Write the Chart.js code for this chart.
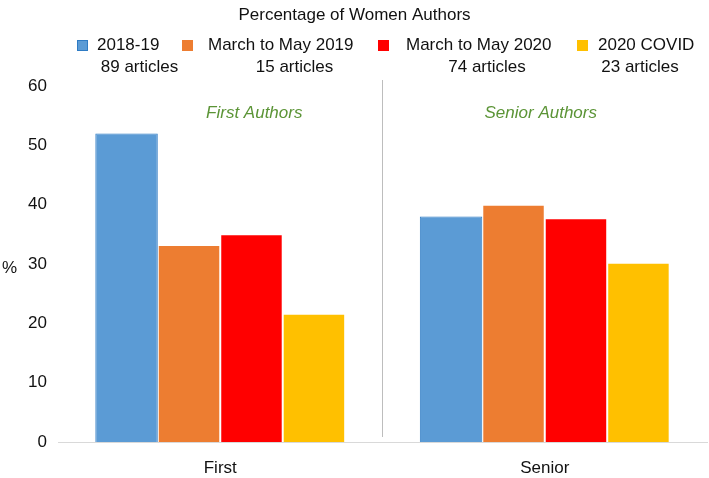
<!DOCTYPE html>
<html>
<head>
<meta charset="utf-8">
<script src="https://cdn.jsdelivr.net/npm/chart.js@4.4.1/dist/chart.umd.min.js"></script>
<style>
  html, body { margin: 0; padding: 0; background: #fff; }
  .cv-frame { width: 709px; height: 478px; }
</style>
</head>
<body>
<div class="cv-frame"><canvas id="chart" width="709" height="478"></canvas></div>
<script>
// data
const categories = ['First', 'Senior'];
const seriesNames = ['2018-19', 'March to May 2019', 'March to May 2020', '2020 COVID'];
const articleCounts = ['89 articles', '15 articles', '74 articles', '23 articles'];
const pct2018_19 = [52, 38];
const pctMarMay2019 = [33.2, 40];
const pctMarMay2020 = [35, 37.7];
const pctCovid2020 = [21.6, 30.2];
const yTicks = [0, 10, 20, 30, 40, 50, 60];
const groupNotes = ['First Authors', 'Senior Authors'];

const FONT = "'Liberation Sans', Arial, Helvetica, sans-serif";
const fills = ['#5b9bd5', '#ed7d31', '#ff0000', '#ffc000'];
const borders = ['#2e7bc4', 'rgba(255,255,255,0.7)', 'rgba(255,255,255,0.7)', 'rgba(255,255,255,0.7)'];
const seriesValues = [pct2018_19, pctMarMay2019, pctMarMay2020, pctCovid2020];

// everything drawn outside the plot area: title, legend, "%", notes, divider
const decorations = {
    id: 'decorations',
    afterDraw(chart) {
        const ctx = chart.ctx;
        const area = chart.chartArea;
        const x = chart.scales.x;
        ctx.save();
        ctx.fillStyle = '#111';
        ctx.textBaseline = 'middle';

        ctx.font = '17px ' + FONT;
        ctx.textAlign = 'center';
        ctx.fillText('Percentage of Women Authors', chart.width / 2, 15);

        // legend, two lines per item
        const boxX = [77, 182, 378, 577];
        const textX = [97, 208, 406, 598];
        const countX = [139.5, 294.5, 487, 640];
        seriesNames.forEach((name, i) => {
            ctx.fillStyle = fills[i];
            ctx.fillRect(boxX[i], 40, 11, 11);
            if (i === 0) {
                ctx.strokeStyle = borders[0];
                ctx.lineWidth = 1;
                ctx.strokeRect(boxX[i] + 0.5, 40.5, 10, 10);
            }
            ctx.fillStyle = '#111';
            ctx.textAlign = 'left';
            ctx.fillText(name, textX[i], 45.5);
            ctx.textAlign = 'center';
            ctx.fillText(articleCounts[i], countX[i], 67);
        });

        // y axis title kept horizontal
        ctx.textAlign = 'left';
        ctx.fillText('%', 2, (area.top + area.bottom) / 2 + 4);

        // divider between the two groups
        const mid = (x.getPixelForValue(0) + x.getPixelForValue(1)) / 2;
        ctx.strokeStyle = '#bdbdbd';
        ctx.lineWidth = 1;
        ctx.beginPath();
        ctx.moveTo(Math.round(mid) - 0.5, 80);
        ctx.lineTo(Math.round(mid) - 0.5, area.bottom - 5);
        ctx.stroke();

        // group notes
        const shift = [34, -4];
        ctx.font = 'italic 17px ' + FONT;
        ctx.fillStyle = '#5b9436';
        ctx.textAlign = 'center';
        groupNotes.forEach((note, i) => {
            ctx.fillText(note, x.getPixelForValue(i) + shift[i], 113);
        });
        ctx.restore();
    }
};

new Chart(document.getElementById('chart').getContext('2d'), {
    type: 'bar',
    data: {
        labels: categories,
        datasets: seriesNames.map((name, i) => ({
            label: name,
            data: seriesValues[i],
            backgroundColor: fills[i],
            borderColor: borders[i],
            borderWidth: 1,
            borderSkipped: 'bottom',
            categoryPercentage: 0.77,
            barPercentage: 1.0
        }))
    },
    options: {
        responsive: false,
        animation: false,
        layout: { padding: { top: 86, right: 2, left: 0, bottom: 0 } },
        plugins: {
            legend: { display: false },
            title: { display: false },
            tooltip: { enabled: false }
        },
        scales: {
            x: {
                grid: { display: false },
                border: { display: true, color: '#d9d9d9', width: 1 },
                ticks: { font: { size: 17, family: FONT }, color: '#111', padding: 8 },
                afterFit(scale) { scale.height = 36; }
            },
            y: {
                min: 0,
                max: 60,
                afterBuildTicks(scale) { scale.ticks = yTicks.map(v => ({ value: v })); },
                grid: { display: false },
                border: { display: false },
                ticks: { font: { size: 17, family: FONT }, color: '#111', padding: 3 },
                afterFit(scale) { scale.width = 58; }
            }
        }
    },
    plugins: [decorations]
});
</script>
</body>
</html>
